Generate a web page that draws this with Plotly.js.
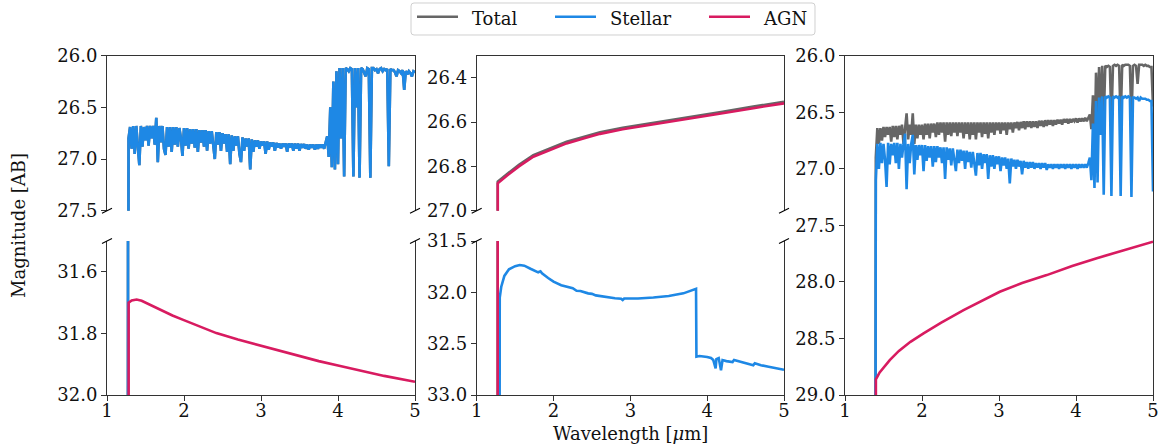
<!DOCTYPE html>
<html>
<head>
<meta charset="utf-8">
<script src="https://cdn.plot.ly/plotly-3.0.1.min.js"></script>
<style>html,body{margin:0;padding:0;background:#fff;}#chart{width:1163px;height:445px;}</style>
</head>
<body>
<div id="chart"></div>
<script>
// Shared wavelength sampling grid (micron) for the noisy spectra
const gridWl = [
1.26,1.28,1.30,1.32,1.34,1.36,1.38,1.40,1.42,1.44,
1.46,1.48,1.50,1.52,1.54,1.56,1.58,1.60,1.62,1.64,
1.66,1.68,1.70,1.72,1.74,1.76,1.78,1.80,1.82,1.84,
1.86,1.88,1.90,1.92,1.94,1.96,1.98,2.00,2.02,2.04,
2.06,2.08,2.10,2.12,2.14,2.16,2.18,2.20,2.22,2.24,
2.26,2.28,2.30,2.32,2.34,2.36,2.38,2.40,2.42,2.44,
2.46,2.48,2.50,2.52,2.54,2.56,2.58,2.60,2.62,2.64,
2.66,2.68,2.70,2.72,2.74,2.76,2.78,2.80,2.82,2.84,
2.86,2.88,2.90,2.92,2.94,2.96,2.98,3.00,3.02,3.04,
3.06,3.08,3.10,3.12,3.14,3.16,3.18,3.20,3.22,3.24,
3.26,3.28,3.30,3.32,3.34,3.36,3.38,3.40,3.42,3.44,
3.46,3.48,3.50,3.52,3.54,3.56,3.58,3.60,3.62,3.64,
3.66,3.68,3.70,3.72,3.74,3.76,3.78,3.80,3.82,3.84,
3.86,3.88,3.90,3.92,3.94,3.96,3.98,4.00,4.02,4.04,
4.06,4.08,4.10,4.12,4.14,4.16,4.18,4.20,4.22,4.24,
4.26,4.28,4.30,4.32,4.34,4.36,4.38,4.40,4.42,4.44,
4.46,4.48,4.50,4.52,4.54,4.56,4.58,4.60,4.62,4.64,
4.66,4.68,4.70,4.72,4.74,4.76,4.78,4.80,4.82,4.84,
4.86,4.88,4.90,4.92,4.94,4.96,4.98,5.00];

// ---------- Left column (stellar-dominated source) ----------
const leftStellarMag = [
40,26.80,26.69,26.90,26.68,26.95,26.68,26.86,27.06,26.68,
26.88,26.69,26.82,26.68,26.87,26.68,26.80,26.68,26.86,26.60,
27.03,26.68,26.84,26.68,26.90,26.96,26.69,26.88,26.69,26.93,
26.69,26.86,26.69,26.88,26.70,26.80,26.97,26.70,26.87,26.70,
26.90,26.71,26.85,26.71,26.89,26.71,26.93,26.72,26.84,26.72,
26.88,26.72,26.92,26.73,26.85,26.73,26.88,27.00,26.74,26.86,
26.74,26.92,26.75,26.85,26.76,26.93,26.76,27.05,26.77,26.92,
26.78,26.87,26.78,26.95,27.03,26.79,26.92,26.80,26.88,26.80,
27.10,26.81,26.93,26.82,26.88,26.82,26.90,26.83,26.87,26.83,
26.95,26.83,26.91,26.84,26.88,26.84,26.92,26.845,26.89,26.85,
26.90,26.85,26.88,26.85,26.93,26.85,26.89,26.85,26.92,26.85,
26.90,26.85,26.92,26.855,26.89,26.855,26.90,26.86,26.91,26.86,
26.89,26.86,26.91,26.86,26.90,26.86,26.89,26.86,26.90,26.84,
26.78,26.98,26.50,27.08,26.25,27.10,26.15,27.05,26.12,26.80,
26.12,27.17,26.12,26.13,26.15,26.12,26.13,27.17,26.12,26.50,
26.12,27.18,26.12,26.13,26.16,26.20,26.12,26.13,27.18,26.12,
26.12,26.14,26.13,26.17,26.13,26.12,26.15,26.13,26.14,26.13,
27.07,26.13,26.14,26.14,26.16,26.20,26.14,26.15,26.17,26.14,
26.33,26.15,26.18,26.15,26.17,26.20,26.15,26.16];
const leftTotalMag = leftStellarMag; // AGN adds < 0.01 mag here
const leftAgnWl  = [1.28,1.281,1.32,1.385,1.45,1.56,1.70,1.85,1.99,2.20,2.42,2.70,3.00,3.25,3.51,3.75,4.00,4.30,4.60,5.00];
const leftAgnMag = [40,31.70,31.693,31.690,31.694,31.707,31.725,31.742,31.756,31.778,31.799,31.820,31.840,31.858,31.875,31.890,31.904,31.922,31.938,31.957];

// ---------- Middle column (AGN-dominated source) ----------
const midAgnWl  = [1.273,1.274,1.40,1.55,1.737,1.95,2.17,2.40,2.605,2.90,3.256,3.55,3.863,4.20,4.60,5.00];
const midAgnMag = [40,26.876,26.840,26.800,26.756,26.725,26.696,26.673,26.653,26.632,26.613,26.595,26.578,26.560,26.537,26.515];
const midTotalWl  = midAgnWl;
const midTotalMag = [40,26.869,26.833,26.793,26.749,26.718,26.689,26.666,26.646,26.625,26.606,26.588,26.571,26.553,26.530,26.508];
const midStellarWl  = [1.29,1.292,1.30,1.32,1.36,1.42,1.50,1.56,1.62,1.70,1.80,1.83,1.85,1.93,2.00,2.10,2.20,2.25,2.30,2.35,2.45,2.50,2.55,2.605,2.70,2.80,2.88,2.90,2.92,3.00,3.10,3.30,3.50,3.69,3.80,3.855,3.86,3.90,4.00,4.05,4.08,4.11,4.12,4.15,4.18,4.20,4.25,4.30,4.33,4.35,4.40,4.50,4.58,4.60,4.62,4.70,4.80,4.90,5.00];
const midStellarMag = [40,32.20,32.05,31.945,31.840,31.775,31.745,31.734,31.740,31.770,31.805,31.795,31.815,31.860,31.896,31.930,31.955,31.960,31.985,31.987,32.010,32.015,32.030,32.036,32.050,32.058,32.062,32.075,32.060,32.062,32.060,32.050,32.035,32.010,31.985,31.965,32.627,32.620,32.630,32.640,32.660,32.740,32.650,32.640,32.760,32.660,32.670,32.680,32.680,32.660,32.670,32.690,32.700,32.710,32.690,32.710,32.725,32.740,32.755];

// ---------- Right column (composite source) ----------
const rightStellarMag = [
40,40,40,40,40,40,40,27.10,26.78,27.00,
26.77,26.95,26.78,26.92,27.16,26.77,26.96,26.78,26.88,26.77,
26.95,26.77,27.00,26.78,26.90,26.78,26.69,27.18,26.78,26.95,
26.78,26.70,27.05,26.79,26.92,26.79,26.88,26.79,27.02,26.79,
26.93,26.80,26.90,26.80,26.98,26.80,26.94,26.80,26.90,26.81,
26.95,26.81,27.09,26.81,26.92,26.82,26.97,26.82,26.92,27.02,
26.83,26.95,26.83,26.93,26.84,27.00,26.84,26.94,26.85,26.99,
26.85,26.95,27.06,26.86,26.97,26.86,27.00,26.87,26.95,26.87,
27.09,26.88,26.98,26.88,27.00,26.89,26.96,26.89,27.02,26.90,
26.97,26.90,27.00,26.91,27.13,26.91,26.98,26.92,27.00,26.92,
26.98,26.93,27.05,26.93,26.99,26.94,27.00,26.94,26.99,26.94,
27.00,26.95,26.99,26.95,27.00,26.95,26.99,26.95,27.01,26.96,
26.99,26.96,27.00,26.96,26.99,26.96,27.00,26.96,26.99,26.96,
27.00,26.96,26.99,26.96,27.00,26.96,26.99,26.96,27.00,26.96,
26.99,26.96,26.99,26.96,26.99,26.95,26.90,27.10,26.60,27.17,
26.40,27.12,26.37,26.70,26.36,27.23,26.36,26.37,26.36,26.37,
27.24,26.36,26.37,26.36,26.37,26.36,27.24,26.36,26.37,26.36,
26.37,26.36,26.37,27.25,26.37,26.37,26.38,26.37,26.40,26.37,
26.38,26.38,26.38,26.39,26.39,26.40,26.40,27.20];
const rightTotalMag = [
40,40,40,40,40,40,40,26.90,26.64,26.78,
26.64,26.75,26.63,26.72,26.63,26.70,26.63,26.76,26.62,26.72,
26.62,26.74,26.62,26.70,26.61,26.78,26.61,26.51,26.74,26.61,
26.70,26.51,26.78,26.61,26.73,26.61,26.70,26.61,26.74,26.60,
26.70,26.60,26.73,26.60,26.68,26.60,26.72,26.59,26.70,26.59,
26.68,26.59,26.76,26.59,26.70,26.59,26.71,26.59,26.68,26.59,
26.71,26.59,26.68,26.59,26.73,26.59,26.69,26.59,26.74,26.59,
26.70,26.59,26.74,26.59,26.68,26.59,26.72,26.59,26.69,26.59,
26.73,26.59,26.68,26.59,26.70,26.59,26.66,26.59,26.69,26.59,
26.66,26.59,26.70,26.59,26.65,26.59,26.68,26.59,26.64,26.585,
26.66,26.585,26.64,26.58,26.65,26.58,26.63,26.58,26.64,26.58,
26.63,26.58,26.64,26.575,26.62,26.575,26.63,26.57,26.62,26.57,
26.61,26.57,26.62,26.57,26.61,26.565,26.60,26.565,26.61,26.56,
26.59,26.56,26.60,26.56,26.59,26.56,26.58,26.555,26.59,26.555,
26.58,26.555,26.58,26.55,26.58,26.55,26.52,26.65,26.35,26.90,
26.15,26.60,26.10,26.55,26.09,26.58,26.09,26.10,26.09,26.10,
26.58,26.09,26.08,26.09,26.08,26.09,26.58,26.08,26.09,26.08,
26.08,26.08,26.09,26.58,26.09,26.08,26.09,26.25,26.08,26.08,
26.08,26.09,26.08,26.09,26.09,26.10,26.10,26.45];
const rightAgnWl  = [1.40,1.401,1.45,1.52,1.584,1.70,1.85,2.02,2.25,2.54,2.75,3.01,3.30,3.62,3.95,4.27,4.60,5.00];
const rightAgnMag = [40,28.861,28.80,28.74,28.69,28.61,28.53,28.455,28.36,28.25,28.175,28.087,28.01,27.94,27.86,27.79,27.725,27.645];

// ---------- Axis tick values and legend labels ----------
const xTicks = [1,2,3,4,5];
const leftTopTicks = [26.0,26.5,27.0,27.5];
const leftBotTicks = [31.6,31.8,32.0];
const midTopTicks = [26.4,26.6,26.8,27.0];
const midBotTicks = [31.5,32.0,32.5,33.0];
const rightTicks = [26.0,26.5,27.0,27.5,28.0,28.5,29.0];
const seriesNames = ['Total', 'Stellar', 'AGN'];

const COLORS = ['#666666', '#1E88E5', '#D81B60'];
const LW = 2.6;

function tr(x, y, k, xa, ya) {
  return {x: x, y: y, type: 'scatter', mode: 'lines', name: seriesNames[k],
    line: {color: COLORS[k], width: LW}, xaxis: xa, yaxis: ya,
    showlegend: false, legendgroup: seriesNames[k], hoverinfo: 'skip'};
}

const data = [
  tr(gridWl, leftTotalMag, 0, 'x', 'y'),
  tr(gridWl, leftStellarMag, 1, 'x', 'y'),
  tr(leftAgnWl, leftAgnMag, 2, 'x', 'y'),
  tr(gridWl, leftTotalMag, 0, 'x2', 'y2'),
  tr(gridWl, leftStellarMag, 1, 'x2', 'y2'),
  tr(leftAgnWl, leftAgnMag, 2, 'x2', 'y2'),
  tr(midTotalWl, midTotalMag, 0, 'x3', 'y3'),
  tr(midStellarWl, midStellarMag, 1, 'x3', 'y3'),
  tr(midAgnWl, midAgnMag, 2, 'x3', 'y3'),
  tr(midTotalWl, midTotalMag, 0, 'x4', 'y4'),
  tr(midStellarWl, midStellarMag, 1, 'x4', 'y4'),
  tr(midAgnWl, midAgnMag, 2, 'x4', 'y4'),
  tr(gridWl, rightTotalMag, 0, 'x5', 'y5'),
  tr(gridWl, rightStellarMag, 1, 'x5', 'y5'),
  tr(rightAgnWl, rightAgnMag, 2, 'x5', 'y5')
];

const W = 1163, H = 445;
const px = v => v / W, py = v => (H - v) / H;
const colL = [px(107), px(415)], colM = [px(476.7), px(784)], colR = [px(845), px(1153)];
const rowT = [py(210.7), py(55.7)], rowB = [py(395), py(241)], rowAll = [py(395), py(55.7)];
const AX = '#333333';
const FONT = {family: 'DejaVu Serif', size: 18, color: '#111'};

function xTop(dom, anchor) {
  return {domain: dom, anchor: anchor, range: [1, 5], side: 'top', showline: true, linecolor: AX, linewidth: 1,
    showticklabels: false, ticks: '', showgrid: false, zeroline: false, fixedrange: true};
}
function xBot(dom, anchor) {
  return {domain: dom, anchor: anchor, range: [1, 5], side: 'bottom', showline: true, linecolor: AX, linewidth: 1,
    tickvals: xTicks, ticks: 'outside', ticklen: 5, tickcolor: AX, tickfont: FONT, ticklabelstandoff: -6,
    showgrid: false, zeroline: false, fixedrange: true, mirror: false};
}
function yAx(dom, anchor, range, ticks, mirror) {
  return {domain: dom, anchor: anchor, range: range, showline: true, linecolor: AX, linewidth: 1, mirror: mirror,
    tickvals: ticks, tickformat: '.1f', ticks: 'outside', ticklen: 5, tickcolor: AX, tickfont: FONT,
    showgrid: false, zeroline: false, fixedrange: true};
}

const shapes = [];
const annotations = [];
// diagonal break marks of the broken y axes
function brk(xp, yp) {
  shapes.push({type: 'line', xref: 'paper', yref: 'paper', x0: px(xp - 5), y0: py(yp + 2.5), x1: px(xp + 5), y1: py(yp - 2.5),
    line: {color: '#000', width: 1.2}});
}
[107, 415, 476.7, 784].forEach(xp => { brk(xp, 210.7); brk(xp, 241); });

// legend (frame with rounded corners, sample lines, labels)
(function () {
  const x0 = 411, x1 = 815, y0 = 3, y1 = 35, r = 3;
  const P = (x, y) => px(x).toFixed(5) + ',' + py(y).toFixed(5);
  shapes.push({type: 'path', xref: 'paper', yref: 'paper',
    path: 'M' + P(x0 + r, y0) + ' L' + P(x1 - r, y0) + ' Q' + P(x1, y0) + ' ' + P(x1, y0 + r) +
          ' L' + P(x1, y1 - r) + ' Q' + P(x1, y1) + ' ' + P(x1 - r, y1) +
          ' L' + P(x0 + r, y1) + ' Q' + P(x0, y1) + ' ' + P(x0, y1 - r) +
          ' L' + P(x0, y0 + r) + ' Q' + P(x0, y0) + ' ' + P(x0 + r, y0) + ' Z',
    line: {color: '#d0d0d0', width: 1}, fillcolor: 'rgba(255,255,255,0.8)'});
  const lineStart = [417, 555, 709], textStart = [471, 609, 762];
  seriesNames.forEach((nm, k) => {
    shapes.push({type: 'line', xref: 'paper', yref: 'paper', x0: px(lineStart[k]), x1: px(lineStart[k] + 41),
      y0: py(16.8), y1: py(16.8), line: {color: COLORS[k], width: LW}});
    annotations.push({text: nm, xref: 'paper', yref: 'paper', x: px(textStart[k]), y: py(18),
      xanchor: 'left', yanchor: 'middle', showarrow: false, font: FONT, borderpad: 0});
  });
})();

annotations.push(
  {text: 'Magnitude [AB]', xref: 'paper', yref: 'paper', x: px(18), y: py(226), textangle: -90,
    showarrow: false, xanchor: 'center', yanchor: 'middle', font: FONT},
  {text: 'Wavelength [<i>μ</i>m]', xref: 'paper', yref: 'paper', x: px(630), y: py(433),
    showarrow: false, xanchor: 'center', yanchor: 'middle', font: FONT}
);

const layout = {
  width: W, height: H,
  margin: {l: 0, r: 0, t: 0, b: 0},
  paper_bgcolor: '#fff', plot_bgcolor: '#fff',
  font: FONT,
  showlegend: false,
  xaxis: xTop(colL, 'y'),
  yaxis: yAx(rowT, 'x', [27.5, 26.0], leftTopTicks, true),
  xaxis2: xBot(colL, 'y2'),
  yaxis2: yAx(rowB, 'x2', [32.0, 31.5], leftBotTicks, true),
  xaxis3: xTop(colM, 'y3'),
  yaxis3: yAx(rowT, 'x3', [27.0, 26.3], midTopTicks, true),
  xaxis4: xBot(colM, 'y4'),
  yaxis4: yAx(rowB, 'x4', [33.0, 31.5], midBotTicks, true),
  xaxis5: Object.assign(xBot(colR, 'y5'), {mirror: true}),
  yaxis5: yAx(rowAll, 'x5', [29.0, 26.0], rightTicks, true),
  shapes: shapes,
  annotations: annotations
};

Plotly.newPlot('chart', data, layout, {staticPlot: true, displayModeBar: false});
</script>
</body>
</html>
